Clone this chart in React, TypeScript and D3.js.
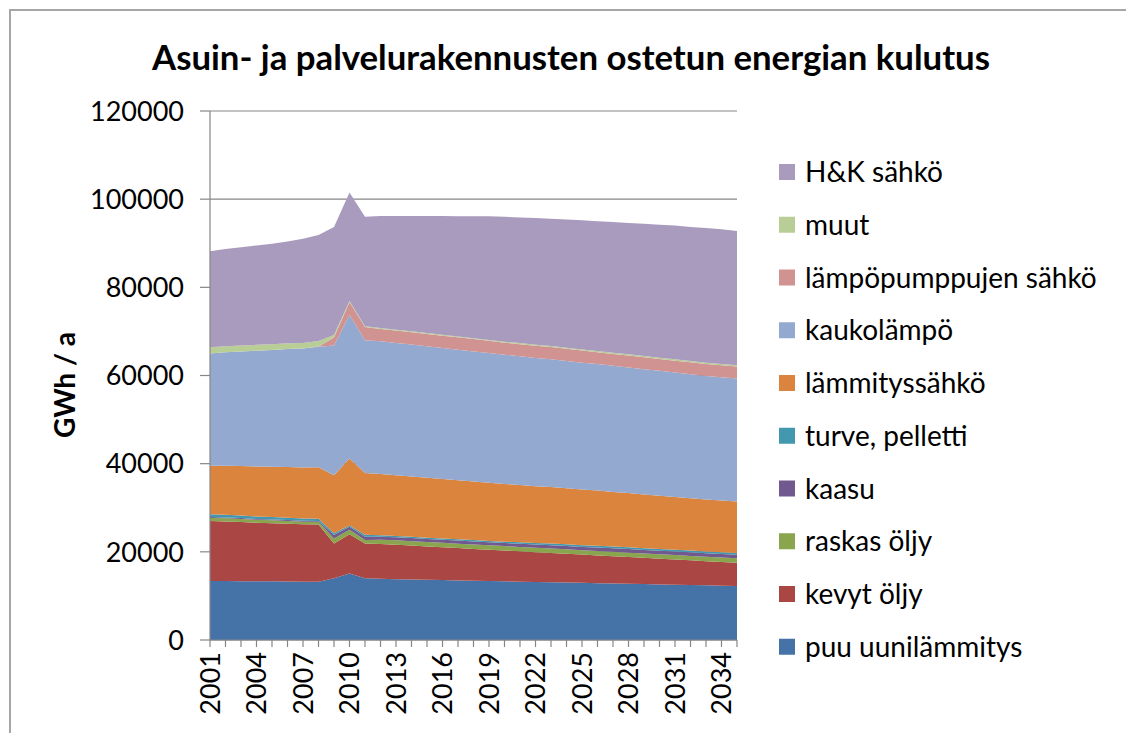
import React from 'react';
import * as d3 from 'd3';

const years = [2001, 2002, 2003, 2004, 2005, 2006, 2007, 2008, 2009, 2010, 2011, 2012, 2013, 2014, 2015, 2016, 2017, 2018, 2019, 2020, 2021, 2022, 2023, 2024, 2025, 2026, 2027, 2028, 2029, 2030, 2031, 2032, 2033, 2034, 2035];

const puu = [13400, 13400, 13350, 13300, 13300, 13250, 13200, 13200, 14000, 15100, 14000, 13900, 13800, 13730, 13660, 13590, 13520, 13450, 13380, 13310, 13240, 13170, 13100, 13030, 12960, 12890, 12820, 12750, 12680, 12610, 12540, 12470, 12400, 12330, 12260];
const kevyt = [13600, 13500, 13400, 13300, 13200, 13100, 13050, 13000, 7900, 8900, 7900, 7850, 7800, 7680, 7560, 7450, 7330, 7220, 7100, 6990, 6870, 6760, 6640, 6530, 6410, 6300, 6180, 6070, 5950, 5840, 5720, 5610, 5490, 5380, 5260];
const raskas = [700, 700, 700, 650, 650, 650, 600, 600, 1100, 1000, 800, 1000, 1000, 1000, 1000, 1000, 1000, 1000, 1000, 1000, 1000, 1000, 1000, 1000, 1000, 1000, 1000, 1000, 1000, 1000, 1000, 1000, 1000, 1000, 1000];
const kaasu = [200, 200, 200, 200, 200, 200, 200, 200, 800, 700, 700, 700, 700, 700, 700, 700, 700, 700, 700, 700, 750, 750, 750, 750, 750, 800, 800, 800, 800, 800, 800, 800, 800, 800, 800];
const turve = [600, 600, 600, 550, 550, 550, 500, 500, 400, 300, 500, 300, 300, 300, 300, 300, 300, 300, 300, 300, 300, 300, 400, 400, 400, 400, 400, 400, 400, 400, 400, 400, 400, 400, 400];
const lammitys = [11000, 11100, 11200, 11350, 11400, 11500, 11600, 11700, 13200, 15200, 14000, 13900, 13800, 13700, 13600, 13500, 13400, 13300, 13200, 13100, 13000, 12900, 12800, 12700, 12600, 12500, 12400, 12300, 12200, 12100, 12000, 11900, 11800, 11750, 11700];
const kauko = [25500, 25750, 26000, 26250, 26500, 26750, 27000, 27300, 29400, 32500, 30100, 30100, 30000, 29900, 29800, 29700, 29600, 29500, 29400, 29300, 29200, 29100, 29000, 28900, 28800, 28700, 28600, 28500, 28400, 28300, 28200, 28100, 28000, 27950, 27900];
const lampopumppu = [0, 0, 0, 0, 0, 0, 0, 100, 1800, 3000, 3000, 2800, 2800, 2800, 2800, 2800, 2800, 2800, 2800, 2750, 2750, 2750, 2750, 2750, 2750, 2700, 2700, 2700, 2700, 2700, 2700, 2700, 2700, 2700, 2700];
const muut = [1400, 1400, 1350, 1350, 1300, 1300, 1250, 1200, 600, 200, 200, 200, 200, 200, 200, 200, 200, 200, 200, 200, 250, 250, 250, 250, 250, 250, 250, 300, 300, 300, 300, 300, 300, 300, 300];
const hk = [21800, 22050, 22300, 22550, 22800, 23100, 23600, 24050, 24500, 24600, 24800, 25450, 25800, 26190, 26580, 26960, 27300, 27680, 28020, 28350, 28490, 28720, 28860, 29090, 29280, 29460, 29650, 29780, 29970, 30150, 30340, 30420, 30560, 30540, 30480];

const seriesNames = ['puu uunilämmitys', 'kevyt öljy', 'raskas öljy', 'kaasu', 'turve, pelletti', 'lämmityssähkö', 'kaukolämpö', 'lämpöpumppujen sähkö', 'muut', 'H&K sähkö'];
const seriesValues = [puu, kevyt, raskas, kaasu, turve, lammitys, kauko, lampopumppu, muut, hk];
const seriesColors = ['#4572A7', '#AA4643', '#89A54E', '#71588F', '#4198AF', '#DB843D', '#93A9CF', '#D19392', '#B9CD96', '#A99BBD'];

const yTicks = [0, 20000, 40000, 60000, 80000, 100000, 120000];
const xLabelYears = [2001, 2004, 2007, 2010, 2013, 2016, 2019, 2022, 2025, 2028, 2031, 2034];

const title = 'Asuin- ja palvelurakennusten ostetun energian kulutus';
const yTitle = 'GWh / a';

export default function App() {
  const W = 1126;
  const H = 733;
  const x = d3.scaleLinear().domain([2001, 2035]).range([210, 737]);
  const y = d3.scaleLinear().domain([0, 120000]).range([640, 111]);

  const rows = years.map((yr, i) => {
    const r: any = { year: yr };
    seriesNames.forEach((n, k) => { r[n] = seriesValues[k][i]; });
    return r;
  });
  const stacked = d3.stack<any>().keys(seriesNames)(rows);
  const area = d3.area<any>()
    .x((d: any) => x(d.data.year))
    .y0((d: any) => y(d[0]))
    .y1((d: any) => y(d[1]))
    .curve(d3.curveLinear);

  const legendY = d3.scalePoint<string>()
    .domain([...seriesNames].reverse())
    .range([172, 646.75]);

  const font = 'Lato, "Open Sans", sans-serif';
  const axisColor = '#868686';

  return (
    <svg width={W} height={H} style={{ position: 'absolute', left: 0, top: 0, background: '#fff' }} fontFamily={font}>
      <rect x={10} y={10} width={1200} height={800} fill="#fff" stroke="#a6a6a6" strokeWidth={2} />
      <text x={152} y={70} fontSize={35} fontWeight="bold" textLength={838} lengthAdjust="spacingAndGlyphs" fill="#000">{title}</text>

      {yTicks.map(t => (
        <line key={'g' + t} x1={210} x2={737} y1={y(t)} y2={y(t)} stroke={axisColor} strokeWidth={1.2} />
      ))}

      {stacked.map((s, k) => (
        <path key={seriesNames[k]} d={area(s as any) || ''} fill={seriesColors[k]} stroke="none" />
      ))}

      <line x1={210} x2={210} y1={111} y2={640} stroke={axisColor} strokeWidth={1.2} />
      <line x1={210} x2={737} y1={640} y2={640} stroke={axisColor} strokeWidth={1.2} />
      {yTicks.map(t => (
        <g key={'yt' + t}>
          <line x1={200} x2={210} y1={y(t)} y2={y(t)} stroke={axisColor} strokeWidth={1.2} />
          <text x={184} y={y(t)} dy="0.36em" textAnchor="end" fontSize={27} fill="#000">{t}</text>
        </g>
      ))}
      {years.map(yr => (
        <line key={'xt' + yr} x1={x(yr)} x2={x(yr)} y1={640} y2={647} stroke={axisColor} strokeWidth={1.2} />
      ))}
      {xLabelYears.map(yr => (
        <text key={'xl' + yr} x={x(yr)} y={652} dy="0.36em" textAnchor="end" fontSize={27} fill="#000"
          transform={`rotate(-90, ${x(yr)}, 652)`}>{yr}</text>
      ))}

      <text x={75} y={385} textAnchor="middle" fontSize={28} fontWeight="bold" fill="#000"
        transform="rotate(-90, 75, 385)">{yTitle}</text>

      {seriesNames.map((n, k) => {
        const cy = legendY(n) as number;
        return (
          <g key={'lg' + n}>
            <rect x={779} y={cy - 8} width={16} height={16} fill={seriesColors[k]} />
            <text x={805} y={cy} dy="0.36em" fontSize={28} fill="#000">{n}</text>
          </g>
        );
      })}
    </svg>
  );
}
